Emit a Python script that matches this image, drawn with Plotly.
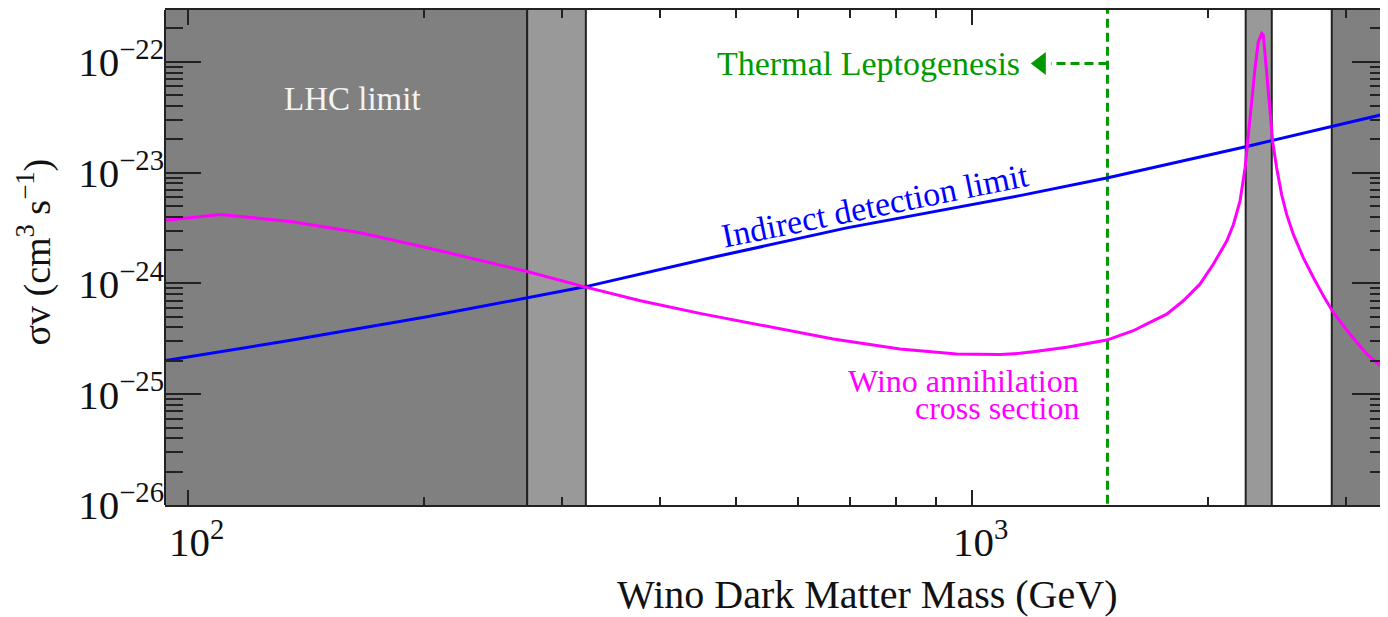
import numpy as np
import plotly.graph_objects as go

# ---------------- data ----------------
# Indirect detection limit (blue)
mass_limit = [93.8, 136, 202, 271, 321, 468, 693, 1152, 1487, 2243, 2892, 3396]
sigma_limit = [2.01e-25, 3.08e-25, 5.00e-25, 7.36e-25, 9.31e-25, 1.72e-24,
               3.17e-24, 6.2e-24, 8.93e-24, 1.72e-23, 2.61e-23, 3.43e-23]

# Wino annihilation cross section (magenta)
mass_wino = [93.8, 110, 136, 166, 202, 245, 271, 321, 378, 450, 569, 666, 810,
             957, 1087, 1152, 1197, 1322, 1487, 1607, 1688, 1773, 1862, 1955,
             2033, 2115, 2157, 2199, 2232, 2253, 2276, 2298, 2320, 2344, 2355,
             2378, 2396, 2420, 2449, 2485, 2522, 2572, 2648, 2728, 2809, 2892,
             3037, 3190, 3396]
sigma_wino = [3.72e-24, 4.19e-24, 3.60e-24, 2.86e-24, 2.10e-24, 1.51e-24, 1.28e-24,
              9.31e-25, 6.97e-25, 5.36e-25, 3.87e-25, 3.15e-25, 2.56e-25,
              2.31e-25, 2.28e-25, 2.34e-25, 2.42e-25, 2.65e-25, 3.08e-25, 3.74e-25,
              4.45e-25, 5.28e-25, 6.97e-25, 9.84e-25,
              1.49e-24, 2.41e-24, 3.40e-24, 5.52e-24, 1.10e-23, 2.19e-23, 4.37e-23,
              8.71e-23, 1.51e-22, 1.80e-22, 1.74e-22,
              8.71e-23, 4.37e-23, 1.91e-23, 1.10e-23, 6.33e-24, 4.19e-24, 2.77e-24,
              1.71e-24, 1.13e-24, 7.72e-25, 5.47e-25,
              3.49e-25, 2.31e-25, 1.58e-25]

# Shaded mass bands (GeV)
band_lo = [60, 271, 2236, 2879]
band_hi = [271, 322, 2414, 5000]
band_colors = ["#808080", "#999999", "#999999", "#808080"]

# Thermal leptogenesis bound (GeV)
leptogenesis_mass = 1490

# tick labels
x_tickvals = [100, 1000]
x_ticktext = ["10<sup>2</sup>", "10<sup>3</sup>"]
x_minor = [200, 300, 400, 500, 600, 700, 800, 900, 2000, 3000]
y_tickvals = [1e-26, 1e-25, 1e-24, 1e-23, 1e-22]
y_ticktext = ["10<sup>\u221226</sup>", "10<sup>\u221225</sup>", "10<sup>\u221224</sup>",
              "10<sup>\u221223</sup>", "10<sup>\u221222</sup>"]
y_minor = [k * 10.0 ** e for e in range(-26, -21) for k in range(2, 10)]

# ---------------- figure ----------------
XR = [1.97105, 3.53099]
YR = [-26.0, -21.5326]
Y_LO, Y_HI = 1e-27, 1e-21
FONT = "Liberation Serif"
FRAME = "#222222"
GREEN = "#009a00"

fig = go.Figure()

for lo, hi, col in zip(band_lo, band_hi, band_colors):
    fig.add_trace(go.Scatter(
        x=[lo, hi, hi, lo, lo], y=[Y_LO, Y_LO, Y_HI, Y_HI, Y_LO],
        mode="lines", fill="toself", fillcolor=col,
        line=dict(color=FRAME, width=2), hoverinfo="skip", showlegend=False))

# green dashed vertical line
fig.add_trace(go.Scatter(
    x=[leptogenesis_mass, leptogenesis_mass], y=[Y_LO, Y_HI], mode="lines",
    line=dict(color=GREEN, width=3, dash="9px,5px"), showlegend=False))

# arrow pointing to lower masses
arrow_y = 9.65e-23
fig.add_trace(go.Scatter(
    x=[leptogenesis_mass, 1262], y=[arrow_y, arrow_y], mode="lines",
    line=dict(color=GREEN, width=3, dash="9px,5px"), showlegend=False))
fig.add_trace(go.Scatter(
    x=[1225], y=[arrow_y], mode="markers",
    marker=dict(symbol="triangle-left", size=20, color=GREEN, line=dict(width=0)),
    showlegend=False))

fig.add_trace(go.Scatter(
    x=mass_limit, y=sigma_limit, mode="lines",
    line=dict(color="#0000ff", width=3), showlegend=False))
fig.add_trace(go.Scatter(
    x=mass_wino, y=sigma_wino, mode="lines",
    line=dict(color="#ff00ff", width=3), showlegend=False))

ann = []
ann.append(dict(x=2.2096, y=-22.333, text="LHC limit", showarrow=False,
                font=dict(family=FONT, size=33, color="#f4f4f4"),
                xanchor="center", yanchor="middle"))
ann.append(dict(x=3.0644, y=-22.0153, text="Thermal Leptogenesis", showarrow=False,
                font=dict(family=FONT, size=34, color=GREEN),
                xanchor="right", yanchor="middle"))
ann.append(dict(x=np.log10(752), y=-23.300, text="Indirect detection limit",
                showarrow=False, textangle=-11.5,
                font=dict(family=FONT, size=34, color="#0000ff"),
                xanchor="center", yanchor="middle"))
ann.append(dict(x=3.1394, y=-24.880, text="Wino annihilation", showarrow=False,
                font=dict(family=FONT, size=32, color="#ff00ff"),
                xanchor="right", yanchor="middle"))
ann.append(dict(x=3.1394, y=-25.122, text="cross section", showarrow=False,
                font=dict(family=FONT, size=32, color="#ff00ff"),
                xanchor="right", yanchor="middle"))
# axis titles
ann.append(dict(xref="paper", yref="paper", x=(867 - 165) / 1223, y=0,
                yshift=-89, text="Wino Dark Matter Mass (GeV)", showarrow=False,
                font=dict(family=FONT, size=40, color="#111"),
                xanchor="center", yanchor="middle"))
ann.append(dict(xref="paper", yref="paper", x=0, y=0.5, xshift=-130, yshift=5,
                text="\u03c3v (cm<sup>3</sup> s<sup>\u22121</sup>)", showarrow=False,
                textangle=-90, font=dict(family=FONT, size=38, color="#111"),
                xanchor="center", yanchor="middle"))

fig.update_layout(
    width=1380, height=609,
    margin=dict(l=157, r=0, t=0, b=112),
    plot_bgcolor="white", paper_bgcolor="white",
    font=dict(family=FONT, color="#111"),
    showlegend=False,
    annotations=ann,
    shapes=[dict(type="line", xref="paper", yref="paper", x0=0, x1=0, y0=0, y1=1,
                 line=dict(color=FRAME, width=2), layer="above")],
    xaxis=dict(type="log", range=XR, tickmode="array", tickvals=x_tickvals,
               ticktext=x_ticktext, ticks="inside", ticklen=15, tickwidth=1.5,
               tickcolor=FRAME, showline=True, linecolor=FRAME, linewidth=2,
               mirror="ticks", showgrid=False, zeroline=False,
               tickfont=dict(family=FONT, size=41, color="#111"),
               ticklabelshift=9,
               minor=dict(tickmode="array", tickvals=x_minor, ticks="inside",
                          ticklen=8, tickwidth=1.5, tickcolor=FRAME, showgrid=False)),
    yaxis=dict(type="log", range=YR, tickmode="array", tickvals=y_tickvals,
               ticktext=y_ticktext, ticks="inside", ticklen=36, tickwidth=1.5,
               tickcolor=FRAME, showline=False, mirror="ticks", showgrid=False,
               zeroline=False,
               tickfont=dict(family=FONT, size=41, color="#111"),
               minor=dict(tickmode="array", tickvals=y_minor, ticks="inside",
                          ticklen=18, tickwidth=1.5, tickcolor=FRAME, showgrid=False)),
)

fig.write_html("out.html")
